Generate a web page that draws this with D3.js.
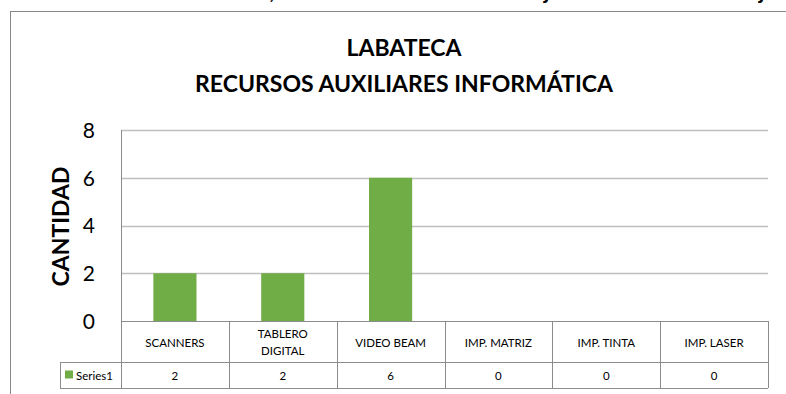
<!DOCTYPE html>
<html>
<head>
<meta charset="utf-8">
<script src="https://cdn.jsdelivr.net/npm/d3@7"></script>
<style>
  html, body { margin: 0; padding: 0; background: #ffffff; }
  svg { display: block; }
  text { font-family: Lato, "Open Sans", sans-serif; fill: #000; }
</style>
</head>
<body>
<svg id="chart" width="786" height="394"></svg>
<script>
// Chart data
const titleLines = ["LABATECA", "RECURSOS AUXILIARES INFORMÁTICA"];
const categories = ["SCANNERS", "TABLERO\nDIGITAL", "VIDEO BEAM", "IMP. MATRIZ", "IMP. TINTA", "IMP. LASER"];
const seriesName = "Series1";
const values = [2, 2, 6, 0, 0, 0];
const yTicks = [0, 2, 4, 6, 8];
const yLabel = "CANTIDAD";

const svg = d3.select("#chart");
const W = 786, H = 394;
const plot = { left: 121, right: 768, top: 130, bottom: 321 };
const rowH = [41, 26];
const green = "#70ad47";
const lineGray = "#8c8c8c";

// Fragments of the line above the chart frame
const aboveG = svg.append("g")
  .style("font-family", "'Liberation Serif', serif")
  .style("font-style", "italic").style("font-weight", "bold").style("font-size", "22px");
[[270, ","], [545, "j"], [760, "j"]].forEach(([x, ch]) => {
  aboveG.append("text").attr("x", x).attr("y", -1).text(ch);
});

// Chart frame
svg.append("rect")
  .attr("x", 10.5).attr("y", 11.5).attr("width", W).attr("height", H)
  .attr("fill", "#fff").attr("stroke", "#868686").attr("stroke-width", 1);

// Scales
const y = d3.scaleLinear().domain([0, 8]).range([plot.bottom, plot.top]);
const cols = d3.scaleBand().domain(categories).range([plot.left, plot.right]).padding(0);
const x = d3.scaleBand().domain(categories).range([plot.left, plot.right])
  .paddingInner(0.6).paddingOuter(0.3);

// Title
const title = svg.append("g").attr("font-weight", "bold");
title.append("text").attr("x", 404).attr("y", 56).attr("text-anchor", "middle")
  .style("font-size", "23px").text(titleLines[0]);
title.append("text").attr("x", 404).attr("y", 92).attr("text-anchor", "middle")
  .style("font-size", "23px").text(titleLines[1]);

// Gridlines
svg.append("g").selectAll("line").data(yTicks.filter(d => d > 0)).join("line")
  .attr("x1", plot.left).attr("x2", plot.right)
  .attr("y1", d => Math.round(y(d)) + 0.5).attr("y2", d => Math.round(y(d)) + 0.5)
  .attr("stroke", "#bfbfbf").attr("stroke-width", 1.3);

// Y axis
const yAxis = d3.axisLeft(y).tickValues(yTicks).tickSize(0).tickPadding(0).tickFormat(d3.format("d"));
const yg = svg.append("g").attr("transform", `translate(${plot.left - 26},0)`).call(yAxis);
yg.select(".domain").remove();
yg.selectAll("text").style("font-size", "21px").style("font-family", "Lato, sans-serif")
  .attr("fill", "#000").attr("dy", "0.35em");
svg.append("line")
  .attr("x1", plot.left + 0.5).attr("x2", plot.left + 0.5)
  .attr("y1", plot.top).attr("y2", plot.bottom)
  .attr("stroke", lineGray).attr("stroke-width", 1);

// Y axis title
svg.append("text")
  .attr("transform", `translate(69,${(plot.top + plot.bottom) / 2 + 1}) rotate(-90)`)
  .attr("text-anchor", "middle").attr("font-weight", "bold")
  .style("font-size", "23px").text(yLabel);

// Bars
svg.append("g").selectAll("rect").data(categories.map((c, i) => ({ c, v: values[i] })))
  .join("rect")
  .attr("x", d => x(d.c)).attr("width", x.bandwidth())
  .attr("y", d => y(d.v)).attr("height", d => y(0) - y(d.v))
  .attr("fill", green);

// Data table
const t0 = plot.bottom, t1 = t0 + rowH[0], t2 = t1 + rowH[1];
const legendLeft = 60;
const tbl = svg.append("g").attr("stroke", lineGray).attr("stroke-width", 1).attr("fill", "none");
tbl.append("line").attr("x1", plot.left).attr("x2", plot.right).attr("y1", t0 + 0.5).attr("y2", t0 + 0.5);
tbl.append("line").attr("x1", legendLeft).attr("x2", plot.right).attr("y1", t1 + 0.5).attr("y2", t1 + 0.5);
tbl.append("line").attr("x1", legendLeft).attr("x2", plot.right).attr("y1", t2 + 0.5).attr("y2", t2 + 0.5);
tbl.append("line").attr("x1", legendLeft + 0.5).attr("x2", legendLeft + 0.5).attr("y1", t1).attr("y2", t2);
const edges = categories.map(c => cols(c)).concat([plot.right]);
tbl.selectAll("line.col").data(edges).join("line").attr("class", "col")
  .attr("x1", d => Math.round(d) + 0.5).attr("x2", d => Math.round(d) + 0.5)
  .attr("y1", t0).attr("y2", t2);

// Category labels
const catG = svg.append("g").style("font-size", "11.5px").attr("text-anchor", "middle");
categories.forEach(c => {
  const lines = c.split("\n");
  const cx = cols(c) + cols.bandwidth() / 2;
  const lh = 16.5;
  lines.forEach((ln, j) => {
    catG.append("text").attr("x", cx)
      .attr("y", (t0 + t1) / 2 + 1 + (j - (lines.length - 1) / 2) * lh)
      .attr("dy", "0.35em").text(ln);
  });
});

// Values row
svg.append("g").style("font-size", "11.5px").attr("text-anchor", "middle")
  .selectAll("text").data(values).join("text")
  .attr("x", (d, i) => cols(categories[i]) + cols.bandwidth() / 2)
  .attr("y", (t1 + t2) / 2 + 1).attr("dy", "0.35em").text(d => d);

// Legend key
svg.append("rect").attr("x", 65).attr("y", t1 + 8.5).attr("width", 8).attr("height", 8).attr("fill", green);
svg.append("text").attr("x", 76).attr("y", (t1 + t2) / 2 + 1).attr("dy", "0.35em")
  .style("font-size", "11.5px").text(seriesName);
</script>
</body>
</html>
